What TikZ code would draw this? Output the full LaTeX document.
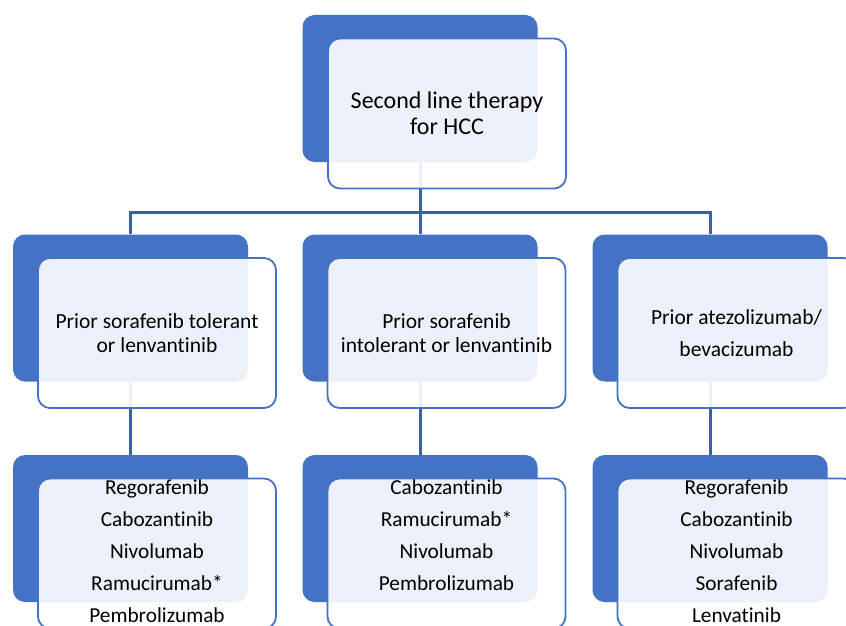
\documentclass[tikz,border=0pt]{standalone}
\usepackage{fontspec}
\setmainfont{Carlito}[Ligatures=NoCommon]
\usepackage{xcolor}
\usepackage{tikz}
\usetikzlibrary{positioning, backgrounds}
\definecolor{accentblue}{RGB}{68, 114, 196}
\definecolor{linkblue}{RGB}{59, 96, 170}

\begin{document}
\begin{tikzpicture}[x=1pt, y=-1pt,
    backbox/.style={rectangle, rounded corners=12pt, fill=accentblue, minimum width=235pt, minimum height=147pt, inner sep=0pt},
    frontbox/.style={rectangle, rounded corners=12pt, draw=accentblue, line width=1.8pt, fill=white, fill opacity=0.9, text opacity=1, minimum width=238pt, minimum height=150pt, inner sep=0pt, align=center, font={\fontsize{21.5}{23.5}\selectfont}},
    druglist/.style={inner sep=0pt, align=center, font={\fontsize{21.3}{32}\selectfont}},
    link/.style={draw=linkblue, line width=3pt}]
    \useasboundingbox (0,0) rectangle (846,626);
    \clip (0,0) rectangle (846,626);

    % The root of the tree
    \node[backbox] (rootback) at (420,88.5) {};
    \node[frontbox, font={\fontsize{24}{25.6}\selectfont}] (rootfront) at ([shift={(27,25)}]rootback.center) {Second line therapy\\for HCC};
    \coordinate (bar) at (420,212);
    \begin{scope}[on background layer]
        \draw[link] (rootback.south) -- (bar);
    \end{scope}

    % Prior treatment, then the drugs that follow it
    \foreach \col/\x/\prior/\drugs in {
        1/130.5/{Prior sorafenib tolerant\\or lenvantinib}/{Regorafenib\\Cabozantinib\\Nivolumab\\Ramucirumab*\\Pembrolizumab},
        2/420/{Prior sorafenib\\intolerant or lenvantinib}/{Cabozantinib\\Ramucirumab*\\Nivolumab\\Pembrolizumab},
        3/710/{Prior atezolizumab/\\[9pt]bevacizumab}/{Regorafenib\\Cabozantinib\\Nivolumab\\Sorafenib\\Lenvatinib}} {
        \node[backbox] (priorback\col) at (\x,308) {};
        \node[frontbox] (priorfront\col) at ([shift={(26.5,25)}]priorback\col.center) {\prior};
        \node[backbox] (drugback\col) at (\x,528.5) {};
        \node[frontbox] (drugfront\col) at ([shift={(26.5,25)}]drugback\col.center) {};
        \node[druglist, below=2pt of drugfront\col.north] (drugs\col) {\drugs};
        % Connectors go behind the boxes
        \begin{scope}[on background layer]
            \draw[link] (bar) -| (priorback\col.north);
            \draw[link] (priorback\col.south) -- (drugback\col.north);
        \end{scope}
    }
\end{tikzpicture}
\end{document}
